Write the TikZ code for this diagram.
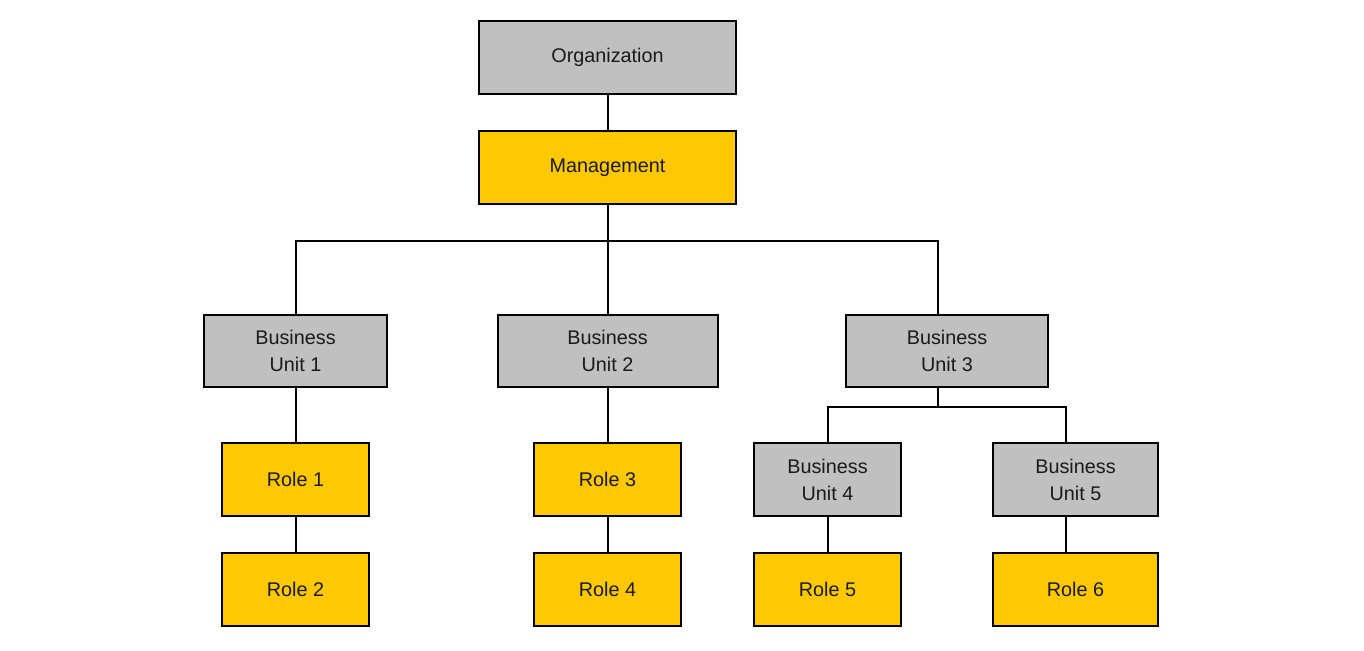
\documentclass[tikz,border=0pt]{standalone}
\usepackage{fontspec}
\setmainfont{Liberation Sans}
\definecolor{boxgray}{HTML}{C0C0C0}
\definecolor{boxyellow}{HTML}{FFC800}
\definecolor{txt}{HTML}{1A1A1A}
\begin{document}
\begin{tikzpicture}[x=1pt,y=-1pt,
  box/.style={draw=black,line width=2pt,text=txt,font=\fontsize{19.8}{27}\selectfont,align=center,inner sep=0pt},
  gbox/.style={box,fill=boxgray},
  ybox/.style={box,fill=boxyellow},
  link/.style={draw=black,line width=2pt}]
\useasboundingbox (0,0) rectangle (1364,650);
\node[gbox,minimum width=257,minimum height=73] (org) at (607.5,57.5) {Organization};
\node[ybox,minimum width=257,minimum height=73] (mgmt) at (607.5,167.5) {Management};
\node[gbox,minimum width=183,minimum height=72] (bu1) at (295.5,351) {Business\\Unit 1};
\node[gbox,minimum width=220,minimum height=72] (bu2) at (607.5,351) {Business\\Unit 2};
\node[gbox,minimum width=202,minimum height=72] (bu3) at (947,351) {Business\\Unit 3};
\node[gbox,minimum width=147,minimum height=73] (bu4) at (827.5,479.5) {Business\\Unit 4};
\node[gbox,minimum width=165,minimum height=73] (bu5) at (1075.5,479.5) {Business\\Unit 5};
\node[ybox,minimum width=147,minimum height=73] (r1) at (295.5,479.5) {Role 1};
\node[ybox,minimum width=147,minimum height=73] (r2) at (295.5,589.5) {Role 2};
\node[ybox,minimum width=147,minimum height=73] (r3) at (607.5,479.5) {Role 3};
\node[ybox,minimum width=147,minimum height=73] (r4) at (607.5,589.5) {Role 4};
\node[ybox,minimum width=147,minimum height=73] (r5) at (827.5,589.5) {Role 5};
\node[ybox,minimum width=165,minimum height=73] (r6) at (1075.5,589.5) {Role 6};
\coordinate (hub) at (607.5,241);
\coordinate (j3) at (938,241);
\coordinate (k3) at (938,407);
\coordinate (x5) at (1066,0);
\path[link] (org.south) -- (mgmt.north);
\path[link] (mgmt.south) -- (hub);
\path[link] (bu1.north) |- (hub) -- (j3) -- (j3 |- bu3.north);
\path[link] (hub) -- (bu2.north);
\path[link] (k3 |- bu3.south) -- (k3);
\path[link] (bu4.north) |- (k3) -| (x5 |- bu5.north);
\path[link] (bu1.south) -- (r1.north);
\path[link] (r1.south) -- (r2.north);
\path[link] (bu2.south) -- (r3.north);
\path[link] (r3.south) -- (r4.north);
\path[link] (bu4.south) -- (r5.north);
\path[link] (x5 |- bu5.south) -- (x5 |- r6.north);
\end{tikzpicture}
\end{document}
